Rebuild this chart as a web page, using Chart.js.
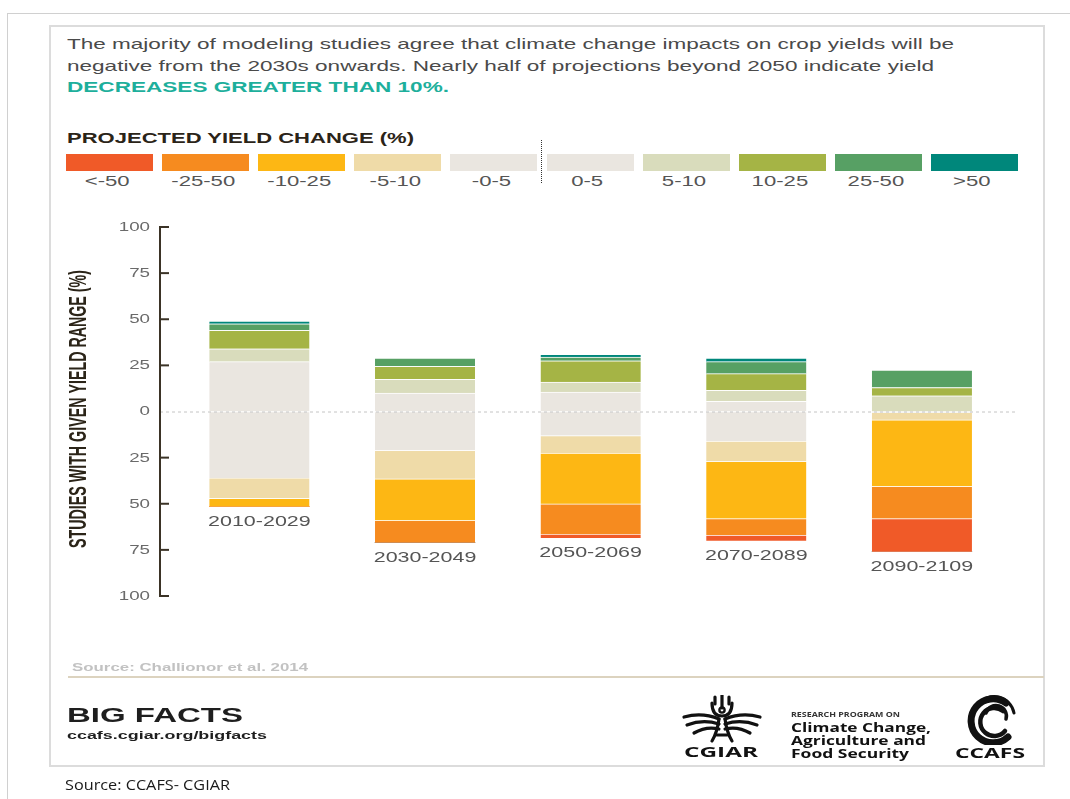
<!DOCTYPE html>
<html>
<head>
<meta charset="utf-8">
<title>Projected yield change</title>
<script src="https://cdn.jsdelivr.net/npm/chart.js@4.4.1/dist/chart.umd.min.js"></script>
<style>
  html, body { margin: 0; padding: 0; background: #fff; }
  #page { position: relative; width: 1070px; height: 799px; overflow: hidden;
          font-family: "Liberation Sans", Arial, Helvetica, sans-serif; }
  .frame { position: absolute; left: 7px; top: 13px; right: 0; bottom: 0;
           border-top: 1px solid #d0d0d0; border-left: 1px solid #d0d0d0; }
  .card { position: absolute; left: 49px; top: 25px; width: 996px; height: 742px;
          border: 2px solid #dcdcdc; box-sizing: border-box; }
  .t { position: absolute; white-space: nowrap; line-height: 1; transform-origin: 0 50%; }
  .b { font-weight: bold; }
  .logo { font-family: "Open Sans", "Noto Sans", sans-serif; font-weight: 700; color: #111; }
  .sw { position: absolute; top: 154px; height: 17px; width: 87px; }
  .lab { position: absolute; top: 174px; font-size: 14px; line-height: 1; color: #555;
         white-space: nowrap; transform-origin: 50% 50%; }
  .divider { position: absolute; left: 541px; top: 140px; height: 43px;
             border-left: 1.5px dotted #333; }
  .rule { position: absolute; left: 68px; top: 676px; width: 976px; height: 2px; background: #dcd3bf; }
  canvas#chart { position: absolute; left: 0; top: 0; }
  svg { position: absolute; }
</style>
</head>
<body>
<div id="page">
  <div class="frame"></div>
  <div class="card"></div>

  <div class="t" data-w="887" style="left:67px;top:36px;font-size:15px;color:#4a4a4a">The majority of modeling studies agree that climate change impacts on crop yields will be</div>
  <div class="t" data-w="867" style="left:67px;top:57.5px;font-size:15px;color:#4a4a4a">negative from the 2030s onwards. Nearly half of projections beyond 2050 indicate yield</div>
  <div class="t b" data-w="382" style="left:67px;top:79px;font-size:15px;color:#1daf9c">DECREASES GREATER THAN 10%.</div>
  <div class="t b" data-w="347" style="left:67px;top:130px;font-size:15.5px;color:#2b2418">PROJECTED YIELD CHANGE (%)</div>

  <div id="legend"></div>
  <div class="divider"></div>

  <canvas id="chart" width="1070" height="799"></canvas>

  <div class="t b" data-w="236" style="left:71.5px;top:661.5px;font-size:10.5px;color:#c2c2c2">Source: Challionor et al. 2014</div>
  <div class="rule"></div>
  <div class="t b" data-w="176" style="left:67px;top:703.5px;font-size:21px;color:#1e1e1e">BIG FACTS</div>
  <div class="t b" data-w="200" style="left:67px;top:730px;font-size:10.5px;color:#1e1e1e">ccafs.cgiar.org/bigfacts</div>

  <!-- CGIAR mark -->
  <svg style="left:682px;top:695px" width="80" height="50" viewBox="0 0 80 50">
    <g fill="none" stroke="#111" stroke-width="3.2" stroke-linecap="round">
      <path d="M40 0 V13"/>
      <path d="M33 2 V9"/>
      <path d="M47 2 V9"/>
      <path d="M30 8 Q30 21 40 21 Q50 21 50 8"/>
      <circle cx="40" cy="15" r="2.6" stroke-width="2.4"/>
      <path d="M37 24 Q20 17 2 22"/>
      <path d="M37 29 Q21 24 5 30"/>
      <path d="M37 34 Q24 31 12 38"/>
      <path d="M43 24 Q60 17 78 22"/>
      <path d="M43 29 Q59 24 75 30"/>
      <path d="M43 34 Q56 31 68 38"/>
      <path d="M37 24 Q35 38 30 46"/>
      <path d="M43 24 Q45 38 50 46"/>
      <path d="M35 40 H45"/>
    </g>
  </svg>
  <div class="t logo" data-w="74" style="left:684px;top:743.5px;font-size:15px">CGIAR</div>

  <div class="t logo" data-w="109" style="left:791px;top:710.5px;font-size:7px;color:#333">RESEARCH PROGRAM ON</div>
  <div class="t logo" data-w="140" style="left:791px;top:720.5px;font-size:13px">Climate Change,</div>
  <div class="t logo" data-w="135" style="left:791px;top:733.5px;font-size:13px">Agriculture and</div>
  <div class="t logo" data-w="118" style="left:791px;top:746.5px;font-size:13px">Food Security</div>

  <!-- CCAFS mark -->
  <svg style="left:956px;top:695px" width="68" height="50" viewBox="0 0 68 50">
    <g fill="none" stroke="#111" stroke-linecap="round">
      <path d="M50 8 A22 22 0 1 0 52 42" stroke-width="7"/>
      <path d="M47 16 A14 14 0 1 0 49 36" stroke-width="4.5"/>
      <path d="M30 18 A10 10 0 0 1 50 24" stroke-width="3.5"/>
      <path d="M22 10 A20 20 0 0 1 58 18" stroke-width="3"/>
    </g>
  </svg>
  <div class="t logo" data-w="70" style="left:955px;top:744.5px;font-size:15px">CCAFS</div>

  <div class="t" data-w="165" style="left:65px;top:776.5px;font-size:15px;color:#1a1a1a;font-family:'Open Sans','Noto Sans',sans-serif">Source: CCAFS- CGIAR</div>
</div>

<script>
// ---- data -------------------------------------------------------------
const periods = ['2010-2029', '2030-2049', '2050-2069', '2070-2089', '2090-2109'];

// share of studies (%) projecting each yield change range, per period
const decBelow50 = [0, 0, 2, 3, 18];          // < -50
const dec25to50  = [0, 12, 16.5, 9, 17.5];    // -25 to -50
const dec10to25  = [4.5, 22.5, 27.5, 31, 36]; // -10 to -25
const dec5to10   = [11, 15.5, 9.5, 11, 4];    // -5 to -10
const dec0to5    = [36, 21, 13, 16, 0.5];     // -0 to -5
const inc0to5    = [27, 10, 10.5, 5.5, 0];    // 0 to 5
const inc5to10   = [7, 7.5, 5.5, 6, 8.5];     // 5 to 10
const inc10to25  = [10, 7, 11.5, 9, 4.5];     // 10 to 25
const inc25to50  = [3.5, 4.5, 2, 6.5, 9.5];   // 25 to 50
const incAbove50 = [1.5, 0, 1.5, 2, 0];       // > 50

const yTicks = [100, 75, 50, 25, 0, -25, -50, -75, -100];
const rangeLabels = ['<-50', '-25-50', '-10-25', '-5-10', '-0-5', '0-5', '5-10', '10-25', '25-50', '>50'];
const rangeColors = ['#f05a28', '#f68b1f', '#fdb714', '#efdba8', '#eae6e0',
                     '#eae6e0', '#d9dcbc', '#a5b445', '#57a064', '#00877b'];
const yTitle = 'STUDIES WITH GIVEN YIELD RANGE (%)';

// ---- legend strip -------------------------------------------------------
const legend = document.getElementById('legend');
rangeLabels.forEach((lab, i) => {
  const left = 66 + i * 96.1;
  const sw = document.createElement('div');
  sw.className = 'sw';
  sw.style.left = left + 'px';
  sw.style.background = rangeColors[i];
  legend.appendChild(sw);
  const t = document.createElement('div');
  t.className = 'lab';
  t.textContent = lab;
  t.dataset.cx = left + 41;
  legend.appendChild(t);
});

function layoutText() {
  document.querySelectorAll('[data-w]').forEach(el => {
    el.style.transform = 'none';
    const w = el.getBoundingClientRect().width;
    el.style.transform = 'scaleX(' + (parseFloat(el.dataset.w) / w) + ')';
  });
  document.querySelectorAll('.lab').forEach(el => {
    el.style.transform = 'none';
    const w = el.getBoundingClientRect().width;
    el.style.left = (parseFloat(el.dataset.cx) - w / 2) + 'px';
    el.style.transform = 'scaleX(1.58)';
  });
}

// ---- chart ------------------------------------------------------------
// Decreases stack downward from zero (closest range first), increases upward.
const series = [
  { label: '-0-5',   values: dec0to5,    sign: -1, color: rangeColors[4] },
  { label: '-5-10',  values: dec5to10,   sign: -1, color: rangeColors[3] },
  { label: '-10-25', values: dec10to25,  sign: -1, color: rangeColors[2] },
  { label: '-25-50', values: dec25to50,  sign: -1, color: rangeColors[1] },
  { label: '<-50',   values: decBelow50, sign: -1, color: rangeColors[0] },
  { label: '0-5',    values: inc0to5,    sign: 1,  color: rangeColors[5] },
  { label: '5-10',   values: inc5to10,   sign: 1,  color: rangeColors[6] },
  { label: '10-25',  values: inc10to25,  sign: 1,  color: rangeColors[7] },
  { label: '25-50',  values: inc25to50,  sign: 1,  color: rangeColors[8] },
  { label: '>50',    values: incAbove50, sign: 1,  color: rangeColors[9] }
];

const datasets = series.map(s => ({
  label: s.label,
  data: s.values.map((v, i) => ({ x: i, y: s.sign * v })),
  backgroundColor: s.color,
  borderColor: 'rgba(255,255,255,0.85)',
  borderWidth: { top: 1, right: 0, bottom: 0, left: 0 },
  borderSkipped: false,
  barThickness: 100,
  stack: 'studies'
}));

const decreaseTotals = periods.map((_, i) =>
  series.filter(s => s.sign < 0).reduce((sum, s) => sum + s.values[i], 0));

const axisPlugin = {
  id: 'axisDecor',
  afterDatasetsDraw(chart) {
    const { ctx, chartArea, scales } = chart;
    const x = scales.x, y = scales.y;
    const axisX = chartArea.left;
    ctx.save();

    // dashed zero line across the plot
    const y0 = y.getPixelForValue(0);
    ctx.strokeStyle = '#c4c4c4';
    ctx.lineWidth = 1;
    ctx.setLineDash([3, 3]);
    ctx.beginPath();
    ctx.moveTo(axisX, y0 + 0.5);
    ctx.lineTo(chartArea.right, y0 + 0.5);
    ctx.stroke();
    ctx.setLineDash([]);

    // vertical axis with inward ticks
    ctx.strokeStyle = '#3b3326';
    ctx.lineWidth = 2;
    ctx.beginPath();
    ctx.moveTo(axisX, y.getPixelForValue(100) - 1);
    ctx.lineTo(axisX, y.getPixelForValue(-100) + 1);
    ctx.stroke();
    yTicks.forEach(v => {
      if (v === 0) return;
      const py = y.getPixelForValue(v);
      ctx.beginPath();
      ctx.moveTo(axisX - 1, py);
      ctx.lineTo(axisX + 9, py);
      ctx.stroke();
    });

    // tick labels (absolute share of studies)
    ctx.fillStyle = '#6a6a6a';
    ctx.font = '12.5px "Liberation Sans", Arial, sans-serif';
    ctx.textAlign = 'right';
    ctx.textBaseline = 'middle';
    yTicks.forEach(v => {
      const py = y.getPixelForValue(v);
      ctx.save();
      ctx.translate(axisX - 10, py + 0.5);
      ctx.scale(1.5, 1);
      ctx.fillText(String(Math.abs(v)), 0, 0);
      ctx.restore();
    });

    // rotated axis title
    ctx.save();
    ctx.translate(79, 409);
    ctx.rotate(-Math.PI / 2);
    ctx.font = 'bold 17px "Liberation Sans Narrow", "Liberation Sans", Arial, sans-serif';
    const tw = ctx.measureText(yTitle).width;
    ctx.scale(278 / tw, 1.45);
    ctx.fillStyle = '#2b2418';
    ctx.textAlign = 'center';
    ctx.textBaseline = 'middle';
    ctx.fillText(yTitle, 0, 0);
    ctx.restore();

    // period labels under each bar
    ctx.fillStyle = '#555';
    ctx.font = '14.5px "Liberation Sans", Arial, sans-serif';
    ctx.textAlign = 'center';
    ctx.textBaseline = 'middle';
    periods.forEach((p, i) => {
      const px = x.getPixelForValue(i);
      const py = y.getPixelForValue(-decreaseTotals[i]) + 15.5;
      ctx.save();
      ctx.translate(px, py);
      ctx.scale(1.48, 1);
      ctx.fillText(p, 0, 0);
      ctx.restore();
    });

    ctx.restore();
  }
};

new Chart(document.getElementById('chart'), {
  type: 'bar',
  data: { datasets },
  options: {
    responsive: false,
    animation: false,
    layout: { padding: { left: 160, right: 52, top: 227, bottom: 203 } },
    plugins: { legend: { display: false }, tooltip: { enabled: false } },
    scales: {
      x: { type: 'linear', min: -0.6, max: 4.58, offset: false, stacked: true, display: false },
      y: { min: -100, max: 100, stacked: true, display: false }
    }
  },
  plugins: [axisPlugin]
});

layoutText();
if (document.fonts && document.fonts.ready) document.fonts.ready.then(layoutText);
</script>
</body>
</html>
